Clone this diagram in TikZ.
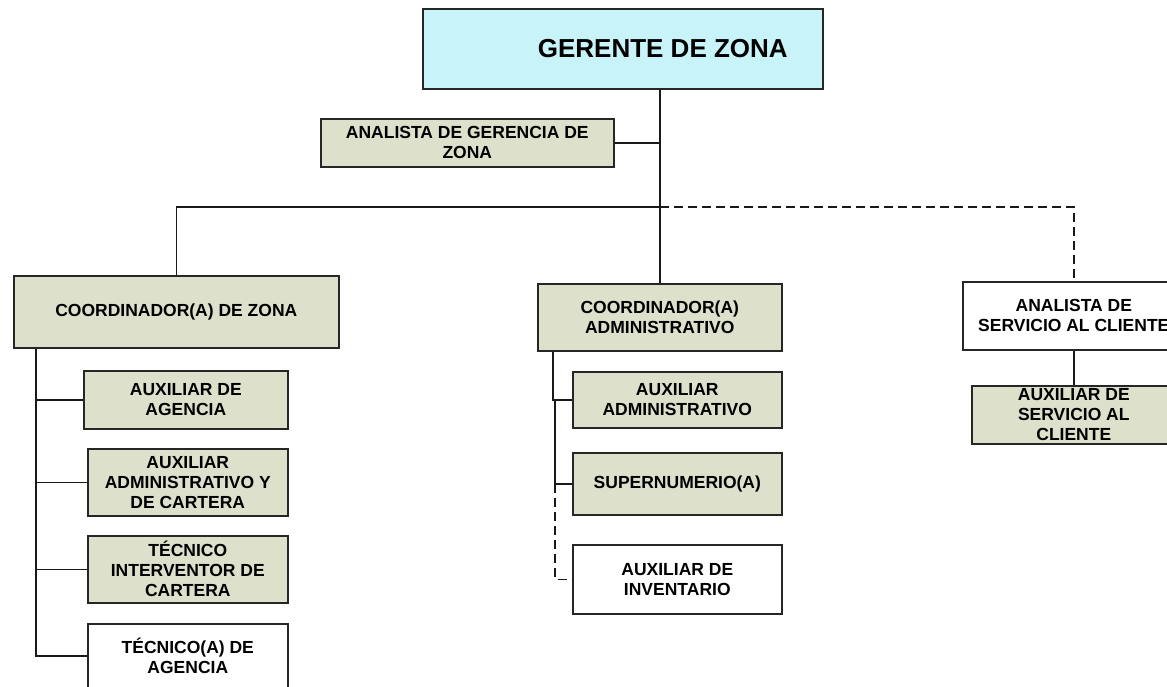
\documentclass[tikz,border=0pt]{standalone}
\usepackage{fontspec}
\setmainfont{Liberation Sans}
\definecolor{gerentefill}{RGB}{200,243,248}
\definecolor{cargofill}{RGB}{221,225,203}
\newcommand{\cargofont}{\bfseries\fontsize{17.5}{20}\selectfont}
\newcommand{\gerentefont}{\bfseries\fontsize{26}{28}\selectfont}
\newcommand{\hijoancho}{200pt}
\newcommand{\adminancho}{209pt}

\begin{document}
\begin{tikzpicture}[x=1pt,y=-1pt,
    caja/.style={draw=black!85,line width=1.6pt,fill=cargofill,align=center,
      font=\cargofont,inner sep=2pt,anchor=north west},
    cajablanca/.style={caja,fill=white},
    linea/.style={draw=black!90,line width=1.5pt},
    lineapunteada/.style={linea,dash pattern=on 9pt off 5pt}]
  \useasboundingbox (0,0) rectangle (1167,686);

  % gerencia
  \node (gerente) at (422,8) [caja,fill=gerentefill,font=\gerentefont,
    minimum width=400pt,minimum height=80pt] {\hspace*{80pt}GERENTE DE ZONA};
  \node (agerencia) at (320,118) [caja,minimum width=293pt,minimum height=48pt]
    {ANALISTA DE GERENCIA DE\\ZONA};

  % coordinaciones
  \node (czona) at (13,275) [caja,minimum width=325pt,minimum height=72pt]
    {COORDINADOR(A) DE ZONA};
  \node (cadmin) at (537,283) [caja,minimum width=244pt,minimum height=67pt]
    {COORDINADOR(A)\\ADMINISTRATIVO};
  \node (aservicio) at (962,281) [cajablanca,minimum width=222pt,minimum height=68pt]
    {ANALISTA DE\\SERVICIO AL CLIENTE};
  \node (auxservicio) at (971,385) [caja,inner ysep=0pt,minimum width=204pt,
    minimum height=58pt] {AUXILIAR DE\\SERVICIO AL\\CLIENTE};

  % zona
  \node (auxagencia) at (83,370) [caja,minimum width=204pt,minimum height=58pt]
    {AUXILIAR DE\\AGENCIA};
  \node (auxcartera) at (87,448) [caja,minimum width=\hijoancho,minimum height=67pt]
    {AUXILIAR\\ADMINISTRATIVO Y\\DE CARTERA};
  \node (tecinterventor) at (87,535) [caja,minimum width=\hijoancho,minimum height=67pt]
    {TÉCNICO\\INTERVENTOR DE\\CARTERA};
  \node (tecagencia) at (87,623) [cajablanca,minimum width=\hijoancho,minimum height=64pt]
    {TÉCNICO(A) DE\\AGENCIA};

  % administrativo
  \node (auxadmin) at (572,371) [caja,minimum width=\adminancho,minimum height=56pt]
    {AUXILIAR\\ADMINISTRATIVO};
  \node (supernum) at (572,452) [caja,minimum width=\adminancho,minimum height=62pt]
    {SUPERNUMERIO(A)};
  \node (auxinv) at (572,544) [cajablanca,minimum width=\adminancho,minimum height=69pt]
    {AUXILIAR DE\\INVENTARIO};

  % lineas
  \coordinate (ramal) at (cadmin.north |- 0,207);
  \coordinate (czlinea) at (36,0);
  \coordinate (calinea) at (553,0);
  \coordinate (calinead) at (555,0);
  \draw[linea] (gerente.south -| cadmin.north) -- (cadmin.north);
  \draw[linea] (agerencia.east) -- (agerencia.east -| cadmin.north);
  \draw[linea] (czona.north) |- (ramal);
  \draw[lineapunteada] (ramal) -| (aservicio.north);
  \draw[linea] (aservicio.south -| auxservicio.north) -- (auxservicio.north);
  \foreach \hijo in {auxagencia,auxcartera,tecinterventor,tecagencia}
    \draw[linea] (czona.south -| czlinea) |- (\hijo.west);
  \draw[linea] (cadmin.south -| calinea) |- (auxadmin.west);
  \draw[linea] (auxadmin.west -| calinead) |- (supernum.west);
  \draw[lineapunteada] (supernum.west -| calinead) |- (auxinv.west);
\end{tikzpicture}
\end{document}
